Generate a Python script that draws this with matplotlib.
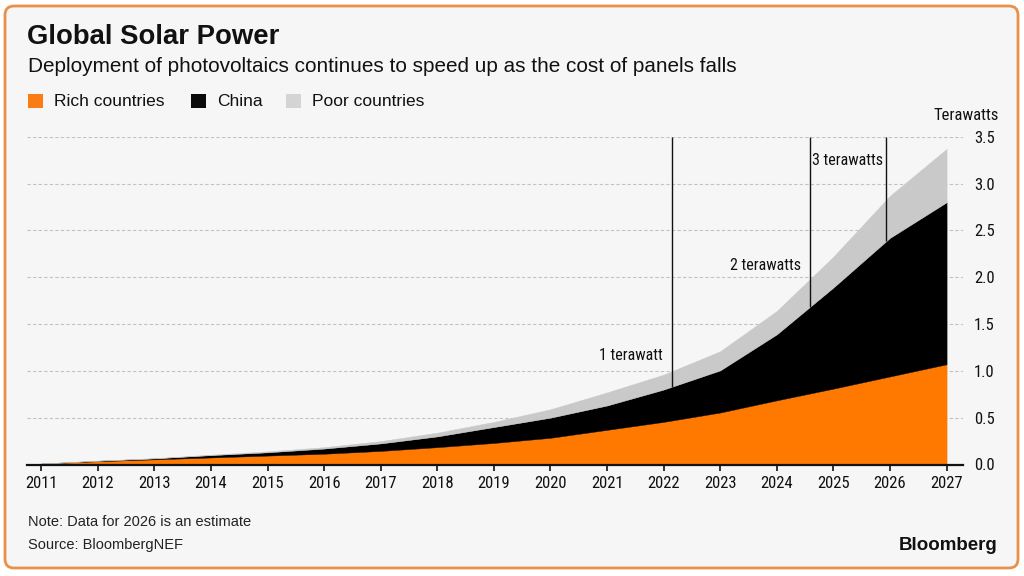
import numpy as np
import matplotlib
matplotlib.use("Agg")
import matplotlib.pyplot as plt
from matplotlib.patches import FancyBboxPatch, Rectangle

# ---------------- data ----------------
years = [2011, 2012, 2013, 2014, 2015, 2016, 2017, 2018, 2019,
         2020, 2021, 2022, 2023, 2024, 2025, 2026, 2027]
rich = [0.01, 0.035, 0.055, 0.075, 0.095, 0.115, 0.145, 0.185, 0.23,
        0.285, 0.37, 0.455, 0.555, 0.685, 0.81, 0.94, 1.07]
china = [0.0, 0.005, 0.01, 0.025, 0.035, 0.055, 0.08, 0.115, 0.17,
         0.215, 0.26, 0.345, 0.45, 0.705, 1.08, 1.48, 1.73]
poor = [0.0, 0.002, 0.003, 0.005, 0.01, 0.015, 0.025, 0.04, 0.055,
        0.09, 0.14, 0.16, 0.205, 0.25, 0.33, 0.45, 0.57]
series_names = ["Rich countries", "China", "Poor countries"]
y_ticks = [0.0, 0.5, 1.0, 1.5, 2.0, 2.5, 3.0, 3.5]
milestone_years = [2022.14, 2024.59, 2025.93]
milestone_labels = ["1 terawatt", "2 terawatts", "3 terawatts"]
milestone_label_values = [1.165, 2.12, 3.25]

title = "Global Solar Power"
subtitle = "Deployment of photovoltaics continues to speed up as the cost of panels falls"
unit_label = "Terawatts"
note = "Note: Data for 2026 is an estimate"
source = "Source: BloombergNEF"
brand = "Bloomberg"

# ---------------- style ----------------
area_colors = ["#ff7800", "#000000", "#c9c9c9"]
legend_colors = ["#f97c14", "#0a0a0a", "#d4d4d4"]
bg = "#f6f6f6"
border = "#e8914a"
narrow = ["Liberation Sans Narrow", "DejaVu Sans Condensed",
          "Noto Sans Condensed", "Roboto Condensed", "Liberation Sans"]
regular = ["Liberation Sans", "DejaVu Sans"]
NSTRETCH = "condensed"

W, H = 1024, 576
fig = plt.figure(figsize=(W / 100, H / 100), dpi=100, facecolor="white")

# background / frame axes in pixel coordinates
bgax = fig.add_axes([0, 0, 1, 1], zorder=0)
bgax.set_xlim(0, W)
bgax.set_ylim(H, 0)
bgax.axis("off")
bgax.add_patch(FancyBboxPatch((5, 6), 1013, 562,
                              boxstyle="round,pad=0,rounding_size=9",
                              facecolor=bg, edgecolor=border, linewidth=2))

bgax.text(27, 37, title, fontsize=19.8, fontweight="bold", family=regular,
          va="center", ha="left", color="#111111")
bgax.text(28, 67, subtitle, fontsize=14.95, family=regular,
          va="center", ha="left", color="#111111")

leg_x = [28, 191, 286]
for i, (name, col) in enumerate(zip(series_names, legend_colors)):
    bgax.add_patch(Rectangle((leg_x[i], 94), 15, 14, facecolor=col,
                             edgecolor="none"))
    bgax.text(leg_x[i] + 26, 101.5, name, fontsize=12.5, family=regular,
              va="center", ha="left", color="#111111")

bgax.text(966, 116, unit_label, fontsize=12, family=narrow,
          fontstretch=NSTRETCH, va="center", ha="center", color="#111111")
bgax.text(28, 522, note, fontsize=10.5, family=regular,
          va="center", ha="left", color="#222222")
bgax.text(28, 545, source, fontsize=10.5, family=regular,
          va="center", ha="left", color="#222222")
bgax.text(997, 545, brand, fontsize=13.5, fontweight="bold", family=regular,
          va="center", ha="right", color="#111111")

# ---------------- main chart ----------------
x0, x1 = 27, 963
y0, y1 = 464.5, 136.7
ax = fig.add_axes([x0 / W, (H - y0) / H, (x1 - x0) / W, (y0 - y1) / H],
                  zorder=1)
ax.set_facecolor("none")
ax.set_xlim(2010.75, 2027.29)
ax.set_ylim(0, 3.5)

ax.stackplot(years, rich, china, poor, colors=area_colors,
             edgecolor="face", linewidth=0.3, zorder=2)

# milestone lines
cum_rc = np.array(rich) + np.array(china)
bottoms = np.interp(milestone_years, years, cum_rc)
ax.vlines(milestone_years, bottoms, y_ticks[-1], color="#111111",
          linewidth=1.0, zorder=3)
label_offsets = [6.5, 6.5, 2.5]
for xv, lab, yv, off in zip(milestone_years, milestone_labels,
                            milestone_label_values, label_offsets):
    ax.annotate(lab, xy=(xv, yv), xytext=(-off, 0), textcoords="offset points",
                ha="right", va="center", fontsize=11.5, family=narrow,
                fontstretch=NSTRETCH, color="#111111", zorder=4)

# axes styling
for s in ["top", "left", "right"]:
    ax.spines[s].set_visible(False)
ax.spines["bottom"].set_color("#111111")
ax.spines["bottom"].set_linewidth(1.6)
ax.spines["bottom"].set_zorder(5)

ax.set_xticks(years)
ax.set_xticklabels([str(y) for y in years], family=narrow,
                   fontstretch=NSTRETCH)
ax.tick_params(axis="x", length=4.5, width=1.2, color="#111111", pad=3.5,
               labelsize=12, labelcolor="#111111")

ax.yaxis.tick_right()
ax.set_yticks(y_ticks)
ax.set_yticklabels([f"{v:.1f}" for v in y_ticks], family=narrow,
                   fontstretch=NSTRETCH)
ax.tick_params(axis="y", length=0, pad=8, labelsize=12, labelcolor="#111111")

ax.grid(axis="y", linestyle=(0, (3, 2)), color="#c2c2c2", linewidth=0.8)
ax.grid(axis="x", visible=False)
ax.set_axisbelow(True)

fig.savefig("out.png", dpi=100, facecolor="white")
